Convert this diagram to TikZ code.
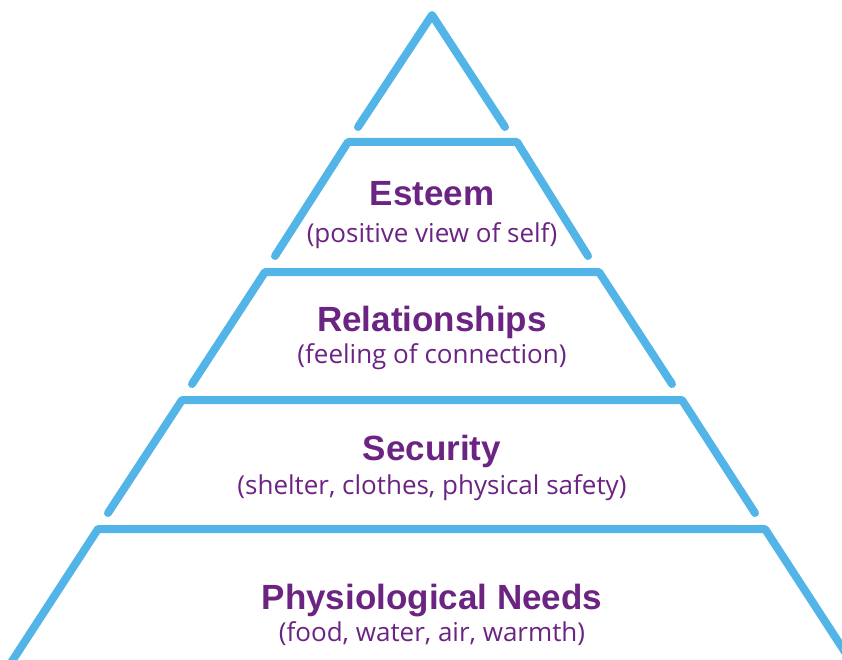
\documentclass[tikz,border=0pt]{standalone}
\usepackage{fontspec}
\setmainfont{Liberation Sans}
\newfontfamily\subfont{Open Sans}
\definecolor{pyrblue}{HTML}{53B4E8}
\definecolor{pyrpurple}{HTML}{6B2482}
\begin{document}
\begin{tikzpicture}[x=1pt,y=-1pt,
  tier/.style={draw=pyrblue,line width=8pt,line cap=round,line join=round},
  title/.style={anchor=base,text=pyrpurple,font=\fontsize{35}{40}\selectfont\bfseries,inner sep=0pt},
  sub/.style={anchor=base,text=pyrpurple,font=\subfont\fontsize{26}{30}\selectfont,inner sep=0pt}]
\useasboundingbox (0,0) rectangle (842,660);
% top triangle
\draw[tier] (358,127) -- (432,15) -- (505,127);
% esteem tier
\draw[tier] (275,256) -- (348,142) -- (517,142) -- (588,256);
% relationships tier
\draw[tier] (192,384) -- (265,272) -- (599,272) -- (672,384);
% security tier
\draw[tier] (108,513) -- (182,400) -- (682,400) -- (755,513);
% physiological tier
\draw[tier] (5,672) -- (98,529) -- (765,529) -- (858,672);
% labels
\node[title] (t1) at (432,206) {Esteem};
\node[sub] (s1) at (432,242) {(positive view of self)};
\node[title] (t2) at (432,331) {Relationships};
\node[sub] (s2) at (432,363) {(feeling of connection)};
\node[title] (t3) at (432,460) {Security};
\node[sub] (s3) at (432,494) {(shelter, clothes, physical safety)};
\node[title] (t4) at (432,609) {Physiological Needs};
\node[sub] (s4) at (432,641) {(food, water, air, warmth)};
\end{tikzpicture}
\end{document}
